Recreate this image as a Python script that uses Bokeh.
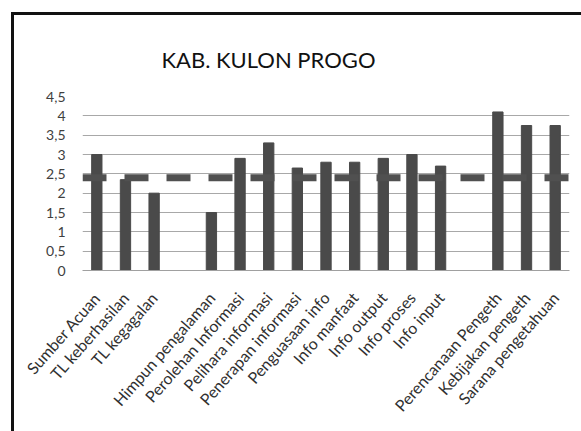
from bokeh.plotting import figure
from bokeh.models import FactorRange, Range1d, FixedTicker, Span, ColumnDataSource, Div
from bokeh.layouts import column
from bokeh.embed import file_html
from bokeh.resources import INLINE

# ---- data ----
categories = ["Sumber Acuan", "TL keberhasilan", "TL kegagalan", " ",
              "Himpun pengalaman", "Perolehan Informasi", "Pelihara informasi",
              "Penerapan informasi", "Penguasaan info", "Info manfaat",
              "Info output", "Info proses", "Info input", "  ",
              "Perencanaan Pengeth", "Kebijakan pengeth", "Sarana pengetahuan"]
scores = [3.0, 2.35, 2.0, None,
          1.5, 2.9, 3.3,
          2.65, 2.8, 2.8,
          2.9, 3.0, 2.7, None,
          4.1, 3.75, 3.75]
average_line = 2.4
y_ticks = [0, 0.5, 1, 1.5, 2, 2.5, 3, 3.5, 4, 4.5]
y_tick_labels = ["0", "0,5", "1", "1,5", "2", "2,5", "3", "3,5", "4", "4,5"]
title_text = "KAB. KULON PROGO"

FONT = "Lato"

bar_x = [c for c, v in zip(categories, scores) if v is not None]
bar_top = [v for v in scores if v is not None]
src = ColumnDataSource(dict(x=bar_x, top=bar_top))

p = figure(x_range=FactorRange(*categories), y_range=Range1d(0, 4.5),
           width=575, height=425, output_backend="svg", toolbar_location=None,
           min_border_left=82, min_border_right=6, min_border_top=96, min_border_bottom=155)
p.outline_line_color = None
p.background_fill_color = "white"
p.border_fill_color = "white"

p.title.text = title_text
p.title.align = "left"
p.title.offset = 79
p.title.standoff = 48
p.title.text_font = FONT
p.title.text_font_size = "22px"
p.title.text_font_style = "normal"
p.title.text_color = "#111111"

p.vbar(x="x", top="top", width=0.36, source=src, fill_color="#4a4a4a", line_color="#4a4a4a")

p.add_layout(Span(location=average_line, dimension="width", line_color="#505050",
                  line_width=7, line_dash="24 18"))

# axes
p.yaxis.ticker = FixedTicker(ticks=y_ticks)
p.yaxis.major_label_overrides = {t: l for t, l in zip(y_ticks, y_tick_labels)}
p.yaxis.axis_line_color = None
p.yaxis.major_tick_line_color = None
p.yaxis.minor_tick_line_color = None
p.yaxis.major_label_standoff = 11
p.yaxis.major_label_text_font = FONT
p.yaxis.major_label_text_font_size = "14px"
p.yaxis.major_label_text_color = "#404040"

p.xaxis.axis_line_color = "#a0a0a0"
p.xaxis.major_tick_line_color = None
p.xaxis.major_label_orientation = 0.85
p.xaxis.major_label_standoff = 18
p.xaxis.major_label_text_font = FONT
p.xaxis.major_label_text_font_size = "16px"
p.xaxis.major_label_text_color = "#303030"

p.xgrid.grid_line_color = None
p.ygrid.ticker = FixedTicker(ticks=y_ticks)
p.ygrid.grid_line_color = "#a8a8a8"
p.ygrid.grid_line_width = 1

frame_div = Div(width=10, height=1,
                text='<div style="position:fixed;left:11px;top:12px;width:700px;height:600px;'
                     'border-top:3px solid #111111;border-left:3px solid #111111;'
                     'pointer-events:none;"></div>')

layout = column(p, frame_div)

open("out.html", "w").write(file_html(layout, INLINE))
